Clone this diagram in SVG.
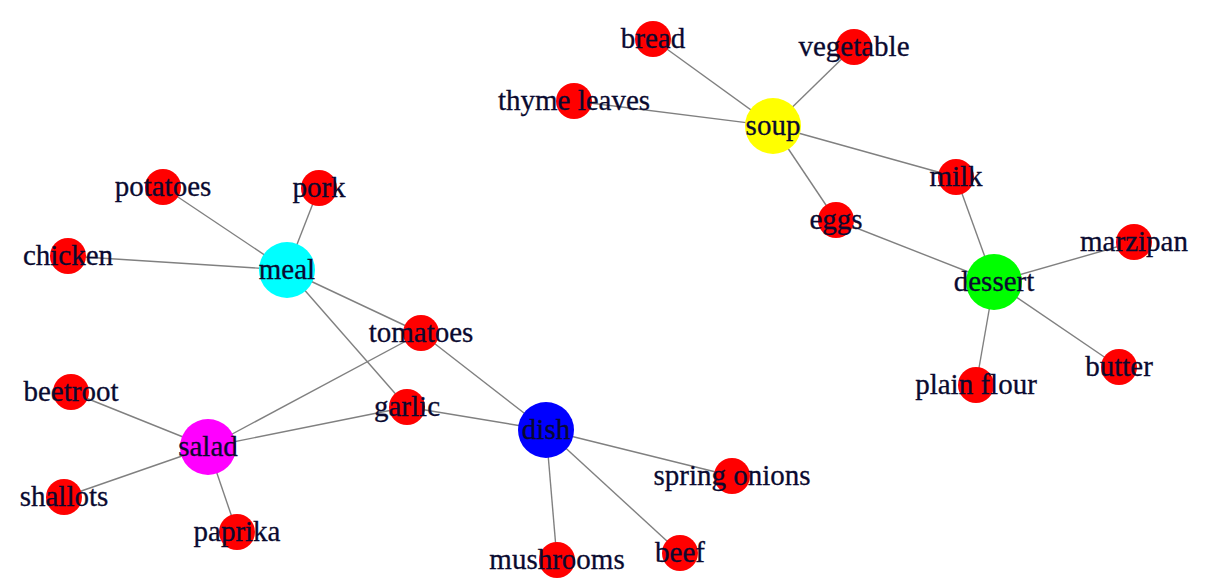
<svg xmlns="http://www.w3.org/2000/svg" width="1213" height="585" viewBox="0 0 1213 585">
<style>
.e{stroke:#808080;stroke-width:1.4;fill:none}
.leaf{fill:#ff0000}
text{font-family:"Liberation Serif","Times New Roman",serif;font-size:29px;fill:#0a0a30;stroke:#0a0a30;stroke-width:0.3;text-anchor:middle}
</style>
<rect width="1213" height="585" fill="#ffffff"/>
<g id="connectors">
<line class="e" x1="287" y1="270" x2="163" y2="187"/>
<line class="e" x1="287" y1="270" x2="319" y2="188"/>
<line class="e" x1="287" y1="270" x2="68" y2="256"/>
<line class="e" x1="287" y1="270" x2="421" y2="333"/>
<line class="e" x1="287" y1="270" x2="407" y2="407"/>
<line class="e" x1="208" y1="447" x2="71" y2="392"/>
<line class="e" x1="208" y1="447" x2="64" y2="497"/>
<line class="e" x1="208" y1="447" x2="237" y2="532"/>
<line class="e" x1="208" y1="447" x2="421" y2="333"/>
<line class="e" x1="208" y1="447" x2="407" y2="407"/>
<line class="e" x1="546" y1="430" x2="421" y2="333"/>
<line class="e" x1="546" y1="430" x2="407" y2="407"/>
<line class="e" x1="546" y1="430" x2="732" y2="476"/>
<line class="e" x1="546" y1="430" x2="680" y2="553"/>
<line class="e" x1="546" y1="430" x2="557" y2="560"/>
<line class="e" x1="773" y1="126" x2="653" y2="39"/>
<line class="e" x1="773" y1="126" x2="854" y2="47"/>
<line class="e" x1="773" y1="126" x2="574" y2="101"/>
<line class="e" x1="773" y1="126" x2="956" y2="177"/>
<line class="e" x1="773" y1="126" x2="836" y2="220"/>
<line class="e" x1="994" y1="282" x2="956" y2="177"/>
<line class="e" x1="994" y1="282" x2="836" y2="220"/>
<line class="e" x1="994" y1="282" x2="1134" y2="242"/>
<line class="e" x1="994" y1="282" x2="1119" y2="367"/>
<line class="e" x1="994" y1="282" x2="976" y2="385"/>
</g>
<g id="potatoes"><circle class="leaf" cx="163" cy="187" r="18"/><text x="163" y="196">potatoes</text></g>
<g id="pork"><circle class="leaf" cx="319" cy="188" r="18"/><text x="319" y="197">pork</text></g>
<g id="chicken"><circle class="leaf" cx="68" cy="256" r="18"/><text x="68" y="265">chicken</text></g>
<g id="meal"><circle cx="287" cy="270" r="28" fill="#00ffff"/><text x="287" y="279">meal</text></g>
<g id="tomatoes"><circle class="leaf" cx="421" cy="333" r="18"/><text x="421" y="342">tomatoes</text></g>
<g id="beetroot"><circle class="leaf" cx="71" cy="392" r="18"/><text x="71" y="401">beetroot</text></g>
<g id="garlic"><circle class="leaf" cx="407" cy="407" r="18"/><text x="407" y="416">garlic</text></g>
<g id="salad"><circle cx="208" cy="447" r="28" fill="#ff00ff"/><text x="208" y="456">salad</text></g>
<g id="shallots"><circle class="leaf" cx="64" cy="497" r="18"/><text x="64" y="506">shallots</text></g>
<g id="paprika"><circle class="leaf" cx="237" cy="532" r="18"/><text x="237" y="541">paprika</text></g>
<g id="dish"><circle cx="546" cy="430" r="28" fill="#0000ff"/><text x="546" y="439">dish</text></g>
<g id="spring_onions"><circle class="leaf" cx="732" cy="476" r="18"/><text x="732" y="485">spring onions</text></g>
<g id="beef"><circle class="leaf" cx="680" cy="553" r="18"/><text x="680" y="562">beef</text></g>
<g id="mushrooms"><circle class="leaf" cx="557" cy="560" r="18"/><text x="557" y="569">mushrooms</text></g>
<g id="bread"><circle class="leaf" cx="653" cy="39" r="18"/><text x="653" y="48">bread</text></g>
<g id="vegetable"><circle class="leaf" cx="854" cy="47" r="18"/><text x="854" y="56">vegetable</text></g>
<g id="thyme_leaves"><circle class="leaf" cx="574" cy="101" r="18"/><text x="574" y="110">thyme leaves</text></g>
<g id="soup"><circle cx="773" cy="126" r="28" fill="#ffff00"/><text x="773" y="135">soup</text></g>
<g id="milk"><circle class="leaf" cx="956" cy="177" r="18"/><text x="956" y="186">milk</text></g>
<g id="eggs"><circle class="leaf" cx="836" cy="220" r="18"/><text x="836" y="229">eggs</text></g>
<g id="dessert"><circle cx="994" cy="282" r="28" fill="#00ff00"/><text x="994" y="291">dessert</text></g>
<g id="marzipan"><circle class="leaf" cx="1134" cy="242" r="18"/><text x="1134" y="251">marzipan</text></g>
<g id="butter"><circle class="leaf" cx="1119" cy="367" r="18"/><text x="1119" y="376">butter</text></g>
<g id="plain_flour"><circle class="leaf" cx="976" cy="385" r="18"/><text x="976" y="394">plain flour</text></g>
</svg>
